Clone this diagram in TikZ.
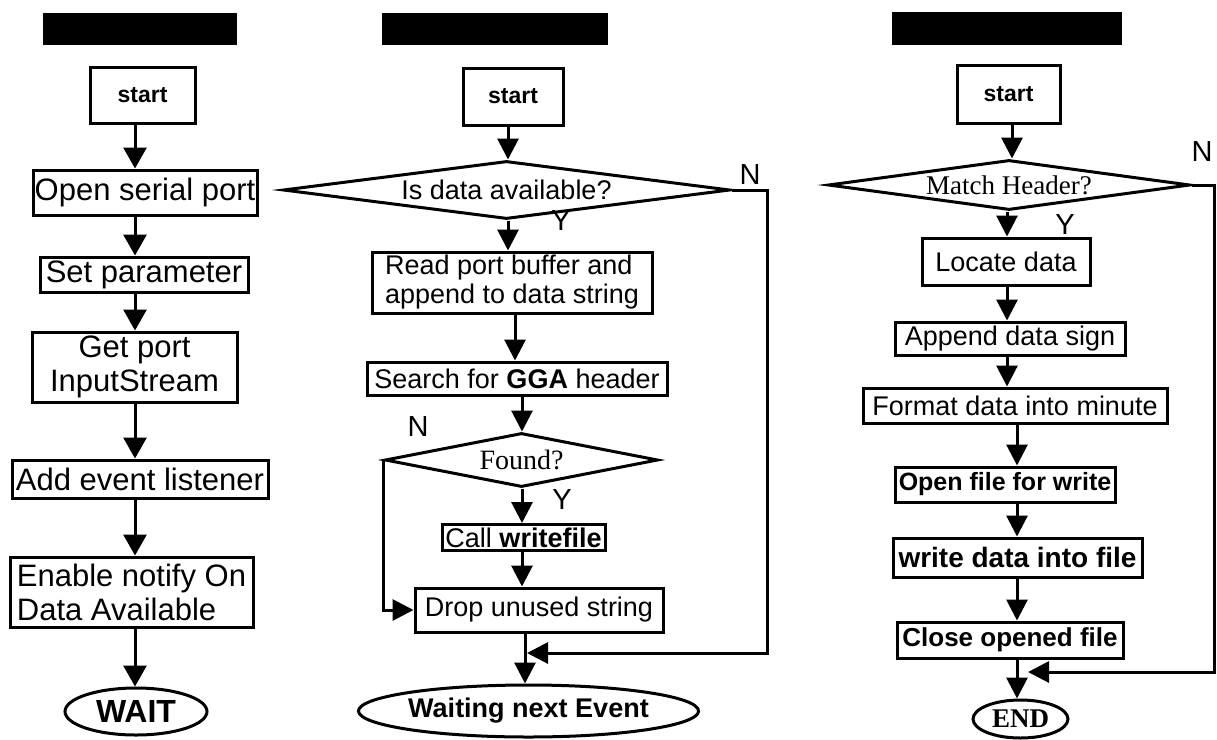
\documentclass[tikz,border=0pt]{standalone}
\usepackage{fontspec}
\setmainfont{Liberation Sans}
\newfontfamily\seriffam{Liberation Serif}
\usetikzlibrary{arrows.meta,shapes.geometric}

\begin{document}
\begin{tikzpicture}[x=1pt,y=-1pt,
  bar/.style={rectangle,fill=black,draw=none,inner sep=0pt},
  box/.style={rectangle,draw,line width=3pt,inner sep=0pt},
  dec/.style={diamond,draw,line width=3pt,inner sep=0pt,aspect=6},
  term/.style={ellipse,draw,line width=3pt,inner sep=0pt},
  fa/.style={font=\fontsize{31}{34}\selectfont},
  fb/.style={font=\fontsize{27}{29}\selectfont},
  fs/.style={font=\fontsize{23}{25}\selectfont\bfseries},
  lbl/.style={inner sep=0pt,font=\fontsize{29}{30}\selectfont},
  arr/.style={line width=3pt,-{Triangle[width=21pt,length=21pt]}},
  arrbig/.style={line width=3pt,-{Triangle[width=23pt,length=21pt]}}]
\useasboundingbox (0,0) rectangle (1217,739);

% ---------- column 1: port setup ----------
\node[bar,minimum width=194,minimum height=32] (t1) at (140,29) {};
\node[box,fs,minimum width=105,minimum height=56] (s1) at (142.5,95) {start};
\node[box,fa,minimum width=224,minimum height=45] (open) at (145,192.5) {Open serial port};
\node[box,fa,minimum width=208,minimum height=35] (setp) at (144,274.5) {Set parameter};
\node[box,fa,align=center,minimum width=205,minimum height=70] (getp) at (134.5,367) {Get port\\InputStream};
\node[box,fa,minimum width=256,minimum height=38] (addev) at (140,479) {Add event listener};
\node[box,fa,align=left,minimum width=243,minimum height=70] (enab) at (131.5,592) {Enable notify On\\Data Available};
\node[term,minimum width=142,minimum height=47,font=\fontsize{32}{34}\selectfont\bfseries] (wait) at (136,711.5) {WAIT};

\coordinate (c1) at (135,0);
\draw[arrbig] (s1.south -| c1) -- (open.north -| c1);
\draw[arrbig] (open.south -| c1) -- (setp.north -| c1);
\draw[arrbig] (setp.south -| c1) -- (getp.north -| c1);
\draw[arrbig] (getp.south -| c1) -- (addev.north -| c1);
\draw[arrbig] (addev.south -| c1) -- (enab.north -| c1);
\draw[arrbig] (enab.south -| c1) -- (wait.north -| c1);

% ---------- column 2: data event ----------
\node[bar,minimum width=226,minimum height=32] (t2) at (495,29) {};
\node[box,fs,minimum width=100,minimum height=57] (s2) at (513,96.5) {start};
\node[dec,fb,minimum width=447,minimum height=58] (avail) at (506.5,190) {Is data available?};
\node[box,fb,align=left,minimum width=280,minimum height=61] (read) at (512,282.5) {Read port buffer and\\append to data string};
\node[box,fb,minimum width=300,minimum height=33] (search) at (517,378.5) {Search for \textbf{GGA} header};
\node[dec,minimum width=273,minimum height=54,font=\seriffam\fontsize{28}{30}\selectfont] (found) at (521.5,460) {Found?};
\node[box,fb,minimum width=163,minimum height=26] (call) at (523.5,537.5) {Call \textbf{writefile}};
\node[box,fb,minimum width=248,minimum height=44] (drop) at (539,610) {Drop unused string};
\node[term,minimum width=337,minimum height=52,font=\fontsize{27}{29}\selectfont\bfseries] (waitev) at (528.5,711) {Waiting next Event};

\node[lbl] (y1) at (561,221) {Y};
\node[lbl] (n1) at (750,175) {N};
\node[lbl] (n2) at (418,427) {N};
\node[lbl] (y2) at (562,500) {Y};

\coordinate (a2) at (508,0);
\coordinate (b2) at (515,0);
\coordinate (d2) at (522,0);
\coordinate (e2) at (525,0);
\coordinate (r2) at (767,0);
\coordinate (m2) at (527,653);
\draw[arr] (s2.south -| a2) -- (avail.north -| a2);
\draw[arr] (avail.south -| a2) -- (read.north -| a2);
\draw[arr] (read.south -| b2) -- (search.north -| b2);
\draw[arr] (search.south -| d2) -- (found.north -| d2);
\draw[arr] (found.south -| d2) -- (call.north -| d2);
\draw[arr] (call.south -| d2) -- (drop.north -| d2);
\draw[arr] (drop.south -| e2) -- (waitev.north -| e2);
\draw[arr] (found.west) |- (drop.west);
\draw[arr] (avail.east) -- (avail.east -| r2) |- (m2);

% ---------- column 3: write file ----------
\node[bar,minimum width=230,minimum height=33] (t3) at (1007,28.5) {};
\node[box,fs,minimum width=103,minimum height=58] (s3) at (1008.5,94) {start};
\node[dec,minimum width=362,minimum height=50,font=\seriffam\fontsize{27}{29}\selectfont] (match) at (1009,185) {Match Header?};
\node[box,fb,minimum width=168,minimum height=47] (locate) at (1006,261.5) {Locate data};
\node[box,fb,minimum width=230,minimum height=33] (appd) at (1010,338.5) {Append data sign};
\node[box,fb,minimum width=304,minimum height=35] (fmt) at (1015,405.5) {Format data into minute};
\node[box,minimum width=220,minimum height=35,font=\fontsize{25}{27}\selectfont\bfseries] (openf) at (1005,484.5) {Open file for write};
\node[box,minimum width=249,minimum height=39,font=\fontsize{28}{30}\selectfont\bfseries] (wrd) at (1017.5,557.5) {write data into file};
\node[box,minimum width=226,minimum height=36,font=\fontsize{26}{28}\selectfont\bfseries] (closef) at (1010,640) {Close opened file};
\node[term,minimum width=95,minimum height=38,font=\seriffam\fontsize{27}{29}\selectfont\bfseries] (endn) at (1020.5,719) {END};

\node[lbl] (y3) at (1065,225) {Y};
\node[lbl] (n3) at (1202,152) {N};

\coordinate (a3) at (1012,0);
\coordinate (b3) at (1007,0);
\coordinate (f3) at (1017,0);
\coordinate (r3) at (1214,0);
\coordinate (m3) at (1028,672);
\draw[arr] (s3.south -| a3) -- (match.north -| a3);
\draw[arr] (match.south -| b3) -- (locate.north -| b3);
\draw[arr] (locate.south -| b3) -- (appd.north -| b3);
\draw[arr] (appd.south -| b3) -- (fmt.north -| b3);
\draw[arr] (fmt.south -| f3) -- (openf.north -| f3);
\draw[arr] (openf.south -| f3) -- (wrd.north -| f3);
\draw[arr] (wrd.south -| f3) -- (closef.north -| f3);
\draw[arr] (closef.south -| f3) -- (endn.north -| f3);
\draw[arr] (match.east) -- (match.east -| r3) |- (m3);
\end{tikzpicture}
\end{document}
